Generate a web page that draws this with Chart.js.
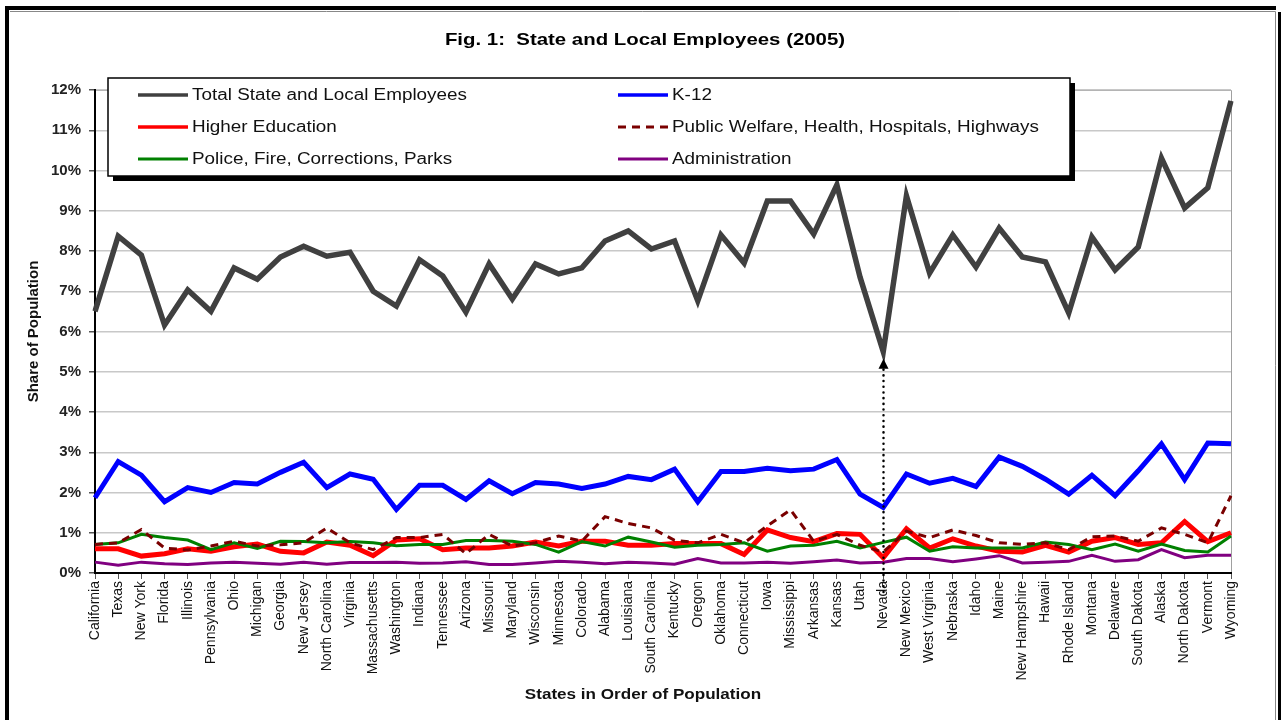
<!DOCTYPE html>
<html>
<head>
<meta charset="utf-8">
<script src="https://cdn.jsdelivr.net/npm/chart.js@4.4.1/dist/chart.umd.min.js"></script>
<style>
  html, body { margin: 0; padding: 0; background: #fff; }
  #wrap { width: 1282px; height: 720px; position: relative; }
</style>
</head>
<body>
<div id="wrap"><canvas id="lineChart" width="1282" height="720"></canvas></div>
<script>
// Estados em ordem de população
const states = ['California', 'Texas', 'New York', 'Florida', 'Illinois', 'Pennsylvania', 'Ohio', 'Michigan',
    'Georgia', 'New Jersey', 'North Carolina', 'Virginia', 'Massachusetts', 'Washington', 'Indiana', 'Tennessee',
    'Arizona', 'Missouri', 'Maryland', 'Wisconsin', 'Minnesota', 'Colorado', 'Alabama', 'Louisiana',
    'South Carolina', 'Kentucky', 'Oregon', 'Oklahoma', 'Connecticut', 'Iowa', 'Mississippi', 'Arkansas',
    'Kansas', 'Utah', 'Nevada', 'New Mexico', 'West Virginia', 'Nebraska', 'Idaho', 'Maine', 'New Hampshire',
    'Hawaii', 'Rhode Island', 'Montana', 'Delaware', 'South Dakota', 'Alaska', 'North Dakota', 'Vermont', 'Wyoming'];

// Valores (% da população)
const totalEmployees = [6.5, 8.37, 7.9, 6.16, 7.03, 6.5, 7.58, 7.3, 7.85, 8.12, 7.87, 7.97, 7.0, 6.63, 7.78, 7.38,
    6.48, 7.68, 6.81, 7.68, 7.43, 7.58, 8.25, 8.5, 8.05, 8.25, 6.76, 8.4, 7.7, 9.24, 9.24, 8.42,
    9.64, 7.35, 5.5, 9.37, 7.45, 8.4, 7.6, 8.57, 7.85, 7.73, 6.46, 8.35, 7.53, 8.1, 10.31, 9.07, 9.57, 11.73];
const k12 = [1.87, 2.77, 2.43, 1.77, 2.12, 2.0, 2.25, 2.21, 2.5, 2.75, 2.12, 2.46, 2.33, 1.58, 2.18, 2.18,
    1.83, 2.29, 1.97, 2.25, 2.21, 2.1, 2.21, 2.4, 2.32, 2.58, 1.77, 2.52, 2.52, 2.6, 2.54, 2.58,
    2.82, 1.96, 1.63, 2.46, 2.23, 2.35, 2.15, 2.88, 2.65, 2.33, 1.96, 2.43, 1.92, 2.54, 3.21, 2.32, 3.23, 3.21];
const higherEd = [0.6, 0.6, 0.42, 0.48, 0.6, 0.54, 0.65, 0.72, 0.54, 0.5, 0.77, 0.69, 0.43, 0.82, 0.85, 0.58,
    0.62, 0.62, 0.67, 0.77, 0.67, 0.79, 0.79, 0.69, 0.69, 0.73, 0.73, 0.73, 0.46, 1.07, 0.88, 0.78,
    0.98, 0.96, 0.38, 1.1, 0.62, 0.85, 0.67, 0.54, 0.52, 0.69, 0.52, 0.79, 0.88, 0.71, 0.75, 1.28, 0.78, 1.0];
const publicWelfare = [0.71, 0.75, 1.08, 0.62, 0.57, 0.67, 0.79, 0.67, 0.7, 0.75, 1.12, 0.75, 0.58, 0.88, 0.88, 0.96,
    0.48, 0.96, 0.67, 0.75, 0.92, 0.79, 1.4, 1.23, 1.12, 0.81, 0.75, 0.96, 0.75, 1.17, 1.57, 0.79,
    0.96, 0.69, 0.52, 1.04, 0.88, 1.07, 0.93, 0.75, 0.71, 0.75, 0.58, 0.9, 0.92, 0.79, 1.12, 0.96, 0.75, 1.92];
const policeFire = [0.71, 0.75, 0.96, 0.88, 0.82, 0.58, 0.75, 0.61, 0.79, 0.78, 0.75, 0.78, 0.75, 0.68, 0.71, 0.71,
    0.81, 0.81, 0.79, 0.71, 0.52, 0.78, 0.67, 0.89, 0.77, 0.64, 0.69, 0.71, 0.75, 0.54, 0.67, 0.69,
    0.79, 0.62, 0.76, 0.89, 0.54, 0.65, 0.62, 0.62, 0.62, 0.77, 0.71, 0.58, 0.72, 0.54, 0.72, 0.56, 0.52, 0.92];
const administration = [0.27, 0.19, 0.27, 0.23, 0.21, 0.25, 0.27, 0.24, 0.22, 0.27, 0.22, 0.26, 0.26, 0.27, 0.24, 0.25,
    0.28, 0.21, 0.21, 0.25, 0.29, 0.27, 0.23, 0.27, 0.25, 0.22, 0.36, 0.25, 0.25, 0.27, 0.24, 0.28,
    0.32, 0.25, 0.27, 0.36, 0.36, 0.28, 0.35, 0.43, 0.25, 0.27, 0.29, 0.44, 0.29, 0.33, 0.58, 0.38, 0.44, 0.44];

const FONT = "'Liberation Sans', Arial, sans-serif";
const highlightState = 'Nevada';

// texto esticado na horizontal (a figura original é mais larga)
function wideText(ctx, text, x, y, stretch, align) {
    ctx.save();
    ctx.translate(x, y);
    ctx.scale(stretch, 1);
    ctx.textAlign = align;
    ctx.fillText(text, 0, 0);
    ctx.restore();
}

// Moldura, títulos, legenda e seta do Nevada
const decorPlugin = {
    id: 'decor',
    beforeDraw(chart) {
        const ctx = chart.ctx;
        const area = chart.chartArea;
        ctx.save();
        ctx.fillStyle = '#fff';
        ctx.fillRect(0, 0, chart.width, chart.height);
        // moldura externa
        ctx.strokeStyle = '#000';
        ctx.lineWidth = 4;
        ctx.beginPath();
        ctx.moveTo(7, 720);
        ctx.lineTo(7, 8);
        ctx.lineTo(1276, 8);
        ctx.stroke();
        ctx.lineWidth = 3;
        ctx.beginPath();
        ctx.moveTo(1279.5, 12);
        ctx.lineTo(1279.5, 720);
        ctx.stroke();
        ctx.strokeStyle = '#888';
        ctx.lineWidth = 1;
        ctx.beginPath();
        ctx.moveTo(10, 11.5);
        ctx.lineTo(1275.5, 11.5);
        ctx.lineTo(1275.5, 720);
        ctx.stroke();
        // borda da área do gráfico
        ctx.strokeStyle = '#a0a0a0';
        ctx.beginPath();
        ctx.moveTo(area.left, area.top + 0.5);
        ctx.lineTo(area.right + 0.5, area.top + 0.5);
        ctx.lineTo(area.right + 0.5, area.bottom);
        ctx.stroke();
        // título
        ctx.fillStyle = '#000';
        ctx.textBaseline = 'middle';
        ctx.font = 'bold 17px ' + FONT;
        wideText(ctx, 'Fig. 1:  State and Local Employees (2005)', 645, 40, 1.2, 'center');
        // título do eixo X
        ctx.fillStyle = '#111';
        ctx.font = 'bold 14px ' + FONT;
        wideText(ctx, 'States in Order of Population', 643, 695, 1.22, 'center');
        // título do eixo Y
        ctx.save();
        ctx.translate(34, (area.top + area.bottom) / 2);
        ctx.rotate(-Math.PI / 2);
        ctx.font = 'bold 15px ' + FONT;
        ctx.textAlign = 'center';
        ctx.fillText('Share of Population', 0, 0);
        ctx.restore();
        ctx.restore();
    },
    afterDraw(chart) {
        const ctx = chart.ctx;
        const xs = chart.scales.x;
        const ys = chart.scales.y;
        ctx.save();

        // seta pontilhada do Nevada
        const idx = states.indexOf(highlightState);
        const nx = Math.round(xs.getPixelForValue(idx)) + 0.5;
        const tipY = ys.getPixelForValue(totalEmployees[idx]) + 7;
        ctx.strokeStyle = '#000';
        ctx.lineWidth = 2.5;
        ctx.lineCap = 'round';
        ctx.setLineDash([0.1, 5.6]);
        ctx.beginPath();
        ctx.moveTo(nx, 592);
        ctx.lineTo(nx, tipY + 10);
        ctx.stroke();
        ctx.setLineDash([]);
        ctx.fillStyle = '#000';
        ctx.beginPath();
        ctx.moveTo(nx, tipY);
        ctx.lineTo(nx - 5, tipY + 10);
        ctx.lineTo(nx + 5, tipY + 10);
        ctx.closePath();
        ctx.fill();

        // legenda em caixa com sombra
        const box = { x: 108, y: 78, w: 962, h: 98 };
        ctx.fillStyle = '#000';
        ctx.fillRect(box.x + 5, box.y + 5, box.w, box.h);
        ctx.fillStyle = '#fff';
        ctx.fillRect(box.x, box.y, box.w, box.h);
        ctx.strokeStyle = '#000';
        ctx.lineWidth = 1.5;
        ctx.strokeRect(box.x, box.y, box.w, box.h);

        const cols = [138, 618];
        const rows = [95, 127, 159];
        ctx.font = '16px ' + FONT;
        ctx.textBaseline = 'middle';
        chart.data.datasets.forEach(function(ds, i) {
            const cx = cols[i % 2];
            const cy = rows[Math.floor(i / 2)];
            ctx.strokeStyle = ds.borderColor;
            ctx.lineWidth = Math.min(ds.borderWidth, 3.5);
            ctx.lineCap = 'butt';
            ctx.setLineDash(ds.borderDash || []);
            ctx.beginPath();
            ctx.moveTo(cx, cy);
            ctx.lineTo(cx + 50, cy);
            ctx.stroke();
            ctx.setLineDash([]);
            ctx.fillStyle = '#111';
            wideText(ctx, ds.label, cx + 54, cy + 1, 1.18, 'left');
        });
        ctx.restore();
    }
};

const ctx = document.getElementById('lineChart').getContext('2d');

new Chart(ctx, {
    type: 'line',
    data: {
        labels: states,
        datasets: [
            { label: 'Total State and Local Employees', data: totalEmployees, borderColor: '#404040', borderWidth: 5.5, order: 1 },
            { label: 'K-12', data: k12, borderColor: '#0000ff', borderWidth: 5, order: 2 },
            { label: 'Higher Education', data: higherEd, borderColor: '#ff0000', borderWidth: 5, order: 5 },
            { label: 'Public Welfare, Health, Hospitals, Highways', data: publicWelfare, borderColor: '#7a0000', borderWidth: 3, borderDash: [8, 6], order: 3 },
            { label: 'Police, Fire, Corrections, Parks', data: policeFire, borderColor: '#008000', borderWidth: 3, order: 4 },
            { label: 'Administration', data: administration, borderColor: '#800080', borderWidth: 3, order: 6 }
        ]
    },
    options: {
        responsive: false,
        animation: false,
        layout: { padding: { top: 90, right: 51, left: 0, bottom: 0 } },
        elements: {
            point: { radius: 0 },
            line: { tension: 0, borderJoinStyle: 'miter', fill: false }
        },
        scales: {
            x: {
                offset: false,
                afterFit: (scale) => { scale.height = 147; },
                grid: { drawOnChartArea: false, drawTicks: true, tickLength: 6, tickColor: '#555' },
                border: { color: '#000', width: 2 },
                ticks: {
                    autoSkip: false,
                    maxRotation: 90,
                    minRotation: 90,
                    padding: 2,
                    color: '#111',
                    font: { family: FONT, size: 14 }
                }
            },
            y: {
                min: 0,
                max: 12,
                afterFit: (scale) => { scale.width = 95; },
                grid: { color: '#c8c8c8', lineWidth: 1.5, tickLength: 6, tickColor: '#555' },
                border: { color: '#000', width: 2 },
                ticks: {
                    stepSize: 1,
                    padding: 8,
                    color: '#222',
                    font: { family: FONT, size: 15, weight: 'bold' },
                    callback: (value) => value + '%'
                }
            }
        },
        plugins: {
            legend: { display: false },
            tooltip: { enabled: false }
        }
    },
    plugins: [decorPlugin]
});
</script>
</body>
</html>
